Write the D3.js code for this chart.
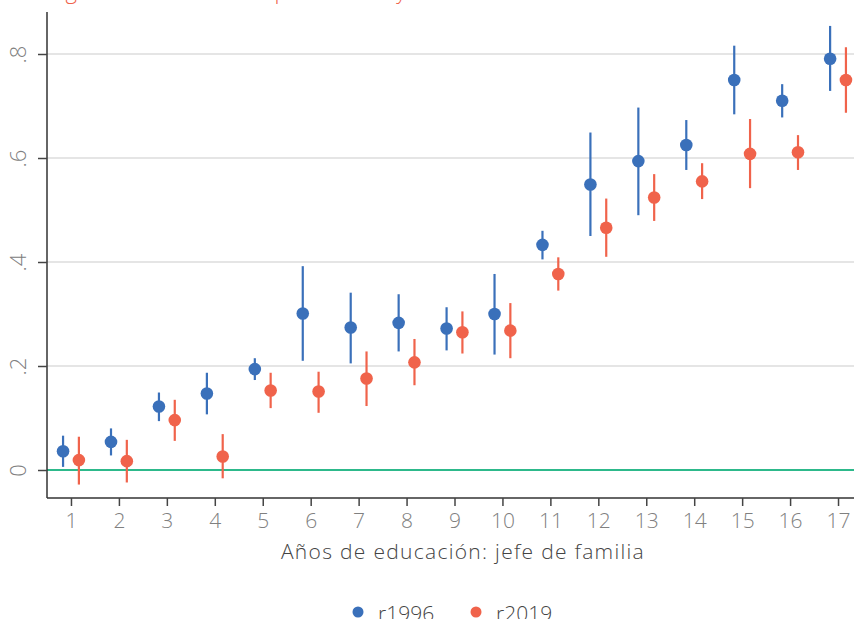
<!DOCTYPE html>
<html>
<head>
<meta charset="utf-8">
<script src="https://cdn.jsdelivr.net/npm/d3@7"></script>
<style>
  body { margin: 0; background: #fff; }
  svg { font-family: "Open Sans", Lato, sans-serif; }
</style>
</head>
<body>
<svg class="svg-canvas" width="854" height="619"></svg>
<script>
// years of schooling of household head
const years = d3.range(1, 18);

// r1996: point estimate and CI bounds
const r1996 = [0.036, 0.054, 0.122, 0.147, 0.194, 0.301, 0.274, 0.283, 0.272, 0.300, 0.433, 0.549, 0.594, 0.625, 0.750, 0.710, 0.791];
const r1996Lo = [0.006, 0.028, 0.094, 0.107, 0.173, 0.210, 0.205, 0.228, 0.230, 0.222, 0.405, 0.450, 0.490, 0.577, 0.684, 0.678, 0.729];
const r1996Hi = [0.066, 0.080, 0.149, 0.187, 0.215, 0.392, 0.341, 0.338, 0.313, 0.377, 0.460, 0.649, 0.697, 0.673, 0.816, 0.742, 0.854];

// r2019
const r2019 = [0.019, 0.017, 0.096, 0.026, 0.153, 0.151, 0.176, 0.207, 0.265, 0.268, 0.377, 0.466, 0.524, 0.555, 0.608, 0.611, 0.750];
const r2019Lo = [-0.028, -0.024, 0.056, -0.016, 0.119, 0.110, 0.123, 0.163, 0.224, 0.215, 0.345, 0.410, 0.479, 0.521, 0.542, 0.577, 0.687];
const r2019Hi = [0.064, 0.058, 0.135, 0.069, 0.187, 0.189, 0.228, 0.252, 0.305, 0.321, 0.409, 0.522, 0.569, 0.590, 0.675, 0.644, 0.813];

const yTicks = [0, 0.2, 0.4, 0.6, 0.8];
const yTickLabels = ["0", ".2", ".4", ".6", ".8"];
const seriesNames = ["r1996", "r2019"];
const colors = ["#3A70BA", "#F0634B"];

const svg = d3.select('.svg-canvas');

const plotLeft = 47, plotBottom = 498, plotTop = 12, plotRight = 854;

const x = d3.scaleLinear().domain([0.5, 17.5]).range([47, 862]);
const y = d3.scaleLinear().domain([0, 0.8]).range([470, 54]);

// title, mostly off the top of the frame
svg.append('text')
    .attr('x', 47).attr('y', -1)
    .attr('fill', colors[1])
    .attr('font-size', 22)
    .attr('font-weight', 300)
    .text('Ingreso a educación superior 1996 y 2019');

// grid
svg.append('g').selectAll('line')
    .data(yTicks.filter(d => d > 0))
    .enter().append('line')
    .attr('x1', plotLeft).attr('x2', plotRight)
    .attr('y1', d => y(d)).attr('y2', d => y(d))
    .attr('stroke', '#dcdcdc').attr('stroke-width', 1.5);

// zero line
svg.append('line')
    .attr('x1', plotLeft).attr('x2', plotRight)
    .attr('y1', y(0)).attr('y2', y(0))
    .attr('stroke', '#2DB98B').attr('stroke-width', 2);

// axes
const xAxis = d3.axisBottom(x).tickValues(years).tickSize(8).tickPadding(7).tickFormat(d3.format('d'));
const yAxis = d3.axisLeft(y).tickValues(yTicks).tickSize(9).tickPadding(10).tickFormat((d, i) => yTickLabels[i]);

const xAxisGroup = svg.append('g').attr('transform', `translate(0, ${plotBottom})`).call(xAxis);
const yAxisGroup = svg.append('g').attr('transform', `translate(${plotLeft}, 0)`).call(yAxis);

xAxisGroup.select('.domain').attr('d', `M${plotLeft},0H${plotRight}`).attr('stroke', '#333').attr('stroke-width', 1.5);
yAxisGroup.select('.domain').attr('d', `M0,${plotTop}V${plotBottom}`).attr('stroke', '#333').attr('stroke-width', 1.5);
xAxisGroup.selectAll('.tick line').attr('stroke', '#444').attr('stroke-width', 1.5);
yAxisGroup.selectAll('.tick line').attr('stroke', '#444').attr('stroke-width', 1.5);

xAxisGroup.selectAll('text')
    .attr('font-size', 21).attr('font-weight', 300)
    .attr('fill', '#808080').attr('font-family', '"Open Sans", sans-serif');

yAxisGroup.selectAll('text')
    .attr('font-size', 22).attr('font-weight', 300)
    .attr('fill', '#808080').attr('font-family', '"Open Sans", sans-serif')
    .attr('text-anchor', 'middle')
    .attr('x', 0).attr('dy', 0)
    .attr('transform', 'translate(-29, 0) rotate(-90) translate(0, 8)');

// axis title
svg.append('text')
    .attr('x', 463).attr('y', 559)
    .attr('text-anchor', 'middle')
    .attr('font-size', 21).attr('font-weight', 300)
    .attr('letter-spacing', 1.3)
    .attr('fill', '#444')
    .text('Años de educación: jefe de familia');

// points + error bars
const series = [
    { name: seriesNames[0], v: r1996, lo: r1996Lo, hi: r1996Hi, off: -0.165, color: colors[0] },
    { name: seriesNames[1], v: r2019, lo: r2019Lo, hi: r2019Hi, off: 0.165, color: colors[1] }
];

series.forEach(s => {
    const g = svg.append('g');
    g.selectAll('line')
        .data(years)
        .enter().append('line')
        .attr('x1', (d, i) => x(d + s.off)).attr('x2', (d, i) => x(d + s.off))
        .attr('y1', (d, i) => y(s.lo[i])).attr('y2', (d, i) => y(s.hi[i]))
        .attr('stroke', s.color).attr('stroke-width', 2.2);
    g.selectAll('circle')
        .data(years)
        .enter().append('circle')
        .attr('cx', (d, i) => x(d + s.off))
        .attr('cy', (d, i) => y(s.v[i]))
        .attr('r', 6.3)
        .attr('fill', s.color);
});

// legend
const legend = svg.append('g');
const legendX = [358, 476];
seriesNames.forEach((n, i) => {
    legend.append('circle').attr('cx', legendX[i]).attr('cy', 612).attr('r', 5.5).attr('fill', colors[i]);
    legend.append('text')
        .attr('x', legendX[i] + 20).attr('y', 621)
        .attr('font-size', 21).attr('font-weight', 300)
        .attr('fill', '#444')
        .text(n);
});
</script>
</body>
</html>
